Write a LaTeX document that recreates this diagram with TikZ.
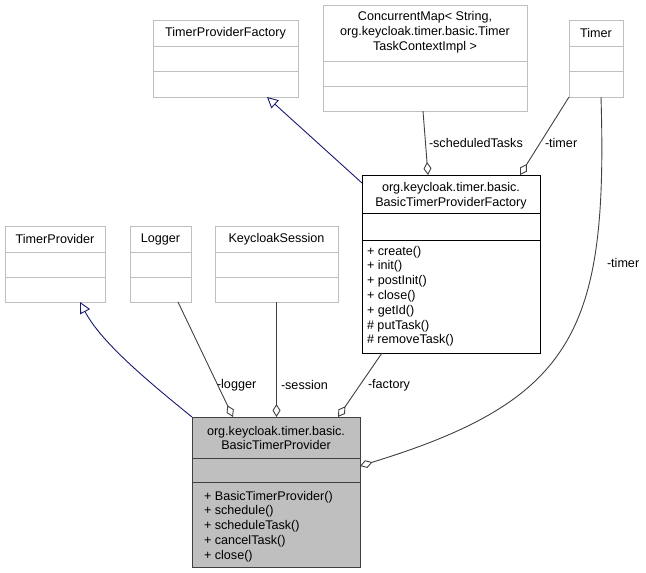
\documentclass[tikz,border=0pt]{standalone}
\usepackage{fontspec}
\setmainfont{Liberation Sans}
\usepackage{tikz}
\usetikzlibrary{arrows.meta}
\definecolor{boxgray}{HTML}{BFBFBF}
\definecolor{edgegray}{HTML}{404040}
\definecolor{inhblue}{HTML}{191970}
\definecolor{curfill}{HTML}{BFBFBF}
\newcommand{\umlfont}{\fontsize{12.6}{14.8}\selectfont}

\begin{document}
\begin{tikzpicture}[x=1pt,y=-1pt,line width=0.9pt,
    every node/.style={font=\umlfont,inner sep=0pt,outer sep=0pt},
    extbox/.style={draw=boxgray,fill=white},
    mainbox/.style={draw=black,fill=white},
    curbox/.style={draw=edgegray,fill=curfill},
    title/.style={align=center},
    members/.style={align=left,anchor=north west},
    lbl/.style={anchor=west},
    aggr/.style={draw=edgegray,-{Diamond[fill=white,length=13pt,width=8pt]}},
    inherit/.style={draw=inhblue,-{Triangle[fill=white,length=11pt,width=11pt]}}]
        \useasboundingbox (0,0) rectangle (646,573);
        % Classi esterne, prima fila
        \node[extbox,minimum width=145pt,minimum height=77pt] (tpf) at (225.5,58.5) {};
        \node[extbox,minimum width=204pt,minimum height=106pt] (cmap) at (425,58) {};
        \node[extbox,minimum width=54pt,minimum height=77pt] (timer) at (596,58.5) {};
        \foreach \b in {tpf,timer} {
            \draw[boxgray] (\b.west |- 0,46) -- (\b.east |- 0,46);
            \draw[boxgray] (\b.west |- 0,71) -- (\b.east |- 0,71);
        }
        \draw[boxgray] (cmap.west |- 0,61) -- (cmap.east |- 0,61);
        \draw[boxgray] (cmap.west |- 0,86) -- (cmap.east |- 0,86);
        \node[title] (tpftitle) at (tpf.north |- 0,33) {TimerProviderFactory};
        \node[title] (cmaptitle) at (cmap.north |- 0,32) {ConcurrentMap< String,\\ org.keycloak.timer.basic.Timer\\TaskContextImpl >};
        \node[title] (timertitle) at (timer.north |- 0,33) {Timer};
        % Classi esterne, seconda fila
        \node[extbox,minimum width=100pt,minimum height=76pt] (tp) at (55,264) {};
        \node[extbox,minimum width=61pt,minimum height=76pt] (logger) at (160.5,264) {};
        \node[extbox,minimum width=123pt,minimum height=76pt] (ksession) at (276.5,264) {};
        \foreach \b in {tp,logger,ksession} {
            \draw[boxgray] (\b.west |- 0,252) -- (\b.east |- 0,252);
            \draw[boxgray] (\b.west |- 0,277) -- (\b.east |- 0,277);
        }
        \node[title] (tptitle) at (tp.north |- 0,239) {TimerProvider};
        \node[title] (loggertitle) at (logger.north |- 0,239) {Logger};
        \node[title] (ksessiontitle) at (ksession.north |- 0,239) {KeycloakSession};
        % Factory
        \node[mainbox,minimum width=178pt,minimum height=178pt] (btpf) at (451,264) {};
        \draw (btpf.west |- 0,213) -- (btpf.east |- 0,213);
        \draw (btpf.west |- 0,240) -- (btpf.east |- 0,240);
        \node[title] (btpftitle) at (btpf.north |- 0,195.5) {org.keycloak.timer.basic.\\BasicTimerProviderFactory};
        \node[members] (btpfops) at (367,246) {+ create()\\+ init()\\+ postInit()\\+ close()\\+ getId()\\\# putTask()\\\# removeTask()};
        % Provider
        \node[curbox,minimum width=168pt,minimum height=150pt] (btp) at (276,492) {};
        \draw[edgegray] (btp.west |- 0,458) -- (btp.east |- 0,458);
        \draw[edgegray] (btp.west |- 0,482) -- (btp.east |- 0,482);
        \node[title] (btptitle) at (btp.north |- 0,438) {org.keycloak.timer.basic.\\BasicTimerProvider};
        \node[members] (btpops) at (204,491) {+ BasicTimerProvider()\\+ schedule()\\+ scheduleTask()\\+ cancelTask()\\+ close()};
        % Ereditarieta
        \draw[inherit] (btpf.west |- 0,183) -- (267,0 |- tpf.south);
        \draw[inherit] (btp.north west) .. controls (140,375) and (100,340) .. (80,0 |- tp.south);
        % Aggregazioni
        \draw[aggr] (423,0 |- cmap.south) -- (428,0 |- btpf.north);
        \draw[aggr] (timer.south west) -- (520,0 |- btpf.north);
        \draw[aggr] (601,0 |- timer.south) .. controls (608,330) and (575,400) .. (btp.east |- 0,466);
        \draw[aggr] (178,0 |- logger.south) -- (233,0 |- btp.north);
        \draw[aggr] (ksession.south) -- (ksession.south |- btp.north);
        \draw[aggr] (382,0 |- btpf.south) -- (338,0 |- btp.north);
        % Etichette
        \node[lbl] (lsched) at (429,143) {-scheduledTasks};
        \node[lbl] (ltimera) at (545,143) {-timer};
        \node[lbl] (ltimerb) at (607,263) {-timer};
        \node[lbl] (llogger) at (217,385) {-logger};
        \node[lbl] (lsession) at (281,385) {-session};
        \node[lbl] (lfactory) at (368,385) {-factory};
    \end{tikzpicture}
\end{document}
